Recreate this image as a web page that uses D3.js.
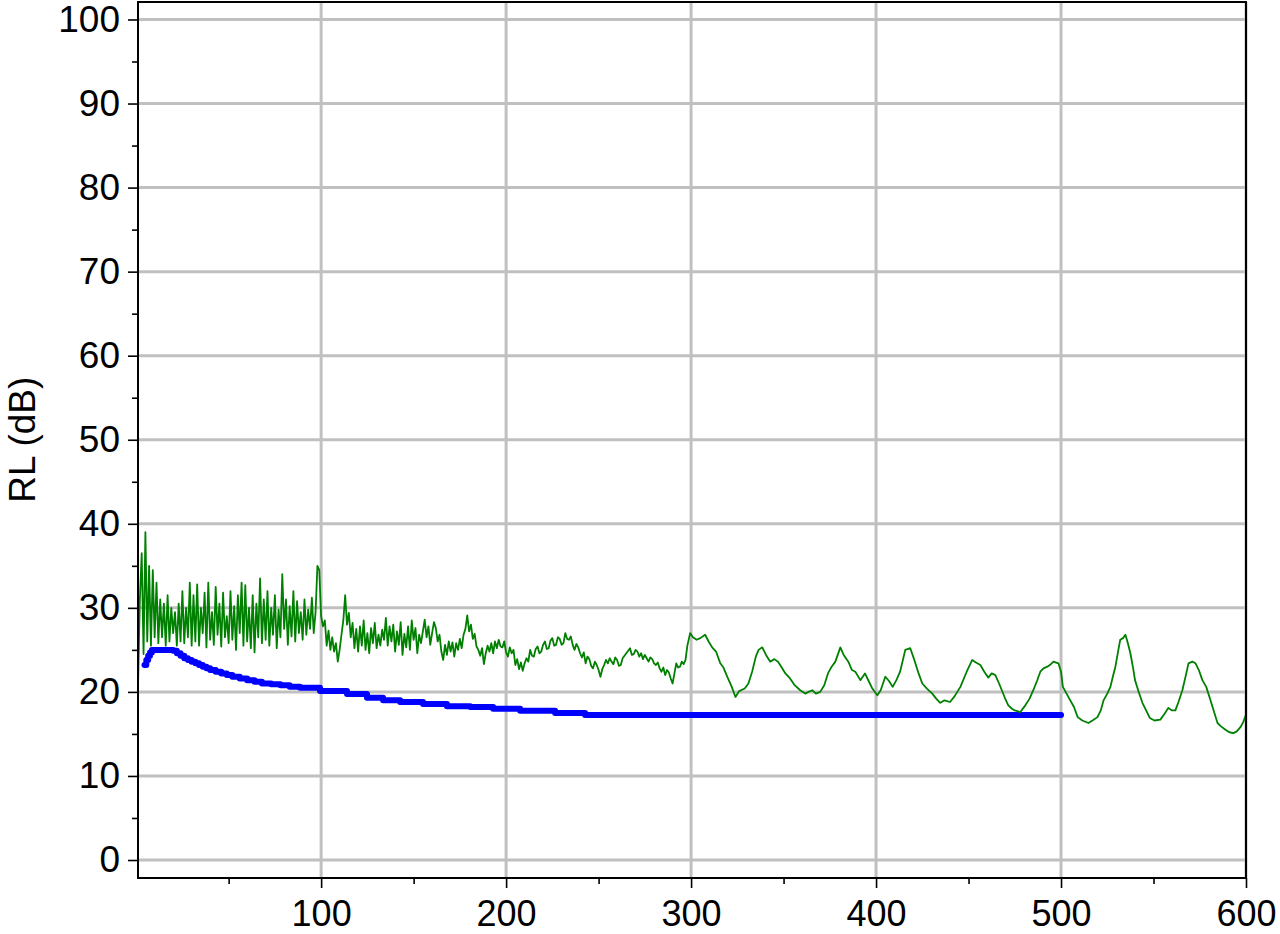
<!DOCTYPE html>
<html>
<head>
<meta charset="utf-8">
<script src="https://cdn.jsdelivr.net/npm/d3@7"></script>
<style>
  html, body { margin: 0; padding: 0; background: #fff; }
  svg { display: block; }
  text { font-family: "Liberation Sans", Arial, sans-serif; fill: #000; }
</style>
</head>
<body>
<svg id="chart" width="1280" height="934"></svg>
<script>
// ---------------- DATA ----------------
const yLabel = "RL (dB)";
const xTickValues = [100, 200, 300, 400, 500, 600];
const xMinorTicks = [50, 150, 250, 350, 450, 550];
const yTickValues = [0, 10, 20, 30, 40, 50, 60, 70, 80, 90, 100];
const yMinorTicks = [5, 15, 25, 35, 45, 55, 65, 75, 85, 95];

// Blue (limit) line, stepped
const blueX = [4.5, 5.5, 6.5, 7.5, 8.5, 20, 22, 24, 26, 28, 30, 32, 34, 36, 38, 40, 43, 46, 49, 52, 56, 60, 64, 68, 73, 78, 83, 88.6, 99.4, 114, 124.8, 133.5, 142.7, 155.1, 168, 180.6, 193, 207.6, 226.5, 242.7, 500];
const blueY = [23.2, 23.8, 24.3, 24.7, 25.0, 24.9, 24.6, 24.3, 24.0, 23.8, 23.6, 23.4, 23.2, 23.0, 22.8, 22.6, 22.4, 22.2, 22.0, 21.8, 21.6, 21.4, 21.2, 21.0, 20.9, 20.8, 20.6, 20.5, 20.1, 19.75, 19.3, 19.0, 18.8, 18.55, 18.3, 18.2, 18.0, 17.75, 17.5, 17.25, 17.25];

// Green (measured) line, dense part: x = 1..298, step 1
const greenDenseStartX = 1;
const greenDenseY = [
  20.5, 31, 36.5, 24.5, 39, 26, 35, 25.5, 34.5, 26.5,
  33, 25.8, 31, 26.5, 30.5, 25.5, 31.5, 26, 30, 27,
  29.5, 25.5, 30.5, 26, 32, 25.8, 30, 26.5, 33, 25.5,
  31.5, 26, 32.8, 25.5, 30, 27, 31.8, 25.3, 33, 26.2,
  29.5, 25.6, 32.5, 26.8, 30.5, 25.4, 31.8, 26.5, 29, 25.8,
  32, 26.2, 30.2, 25, 31.5, 27, 33, 25.5, 32.7, 26,
  30, 25.2, 31.5, 24.7, 30.5, 26.5, 33.5, 25.8, 31, 26.2,
  32, 25.5, 30, 26.8, 31.5, 25.2, 29.8, 26.5, 34, 27.5,
  31, 25.6, 30.2, 26.6, 32, 26, 30.8, 27, 29.5, 26.2,
  31, 26.8, 29.8, 27.5, 31.2, 27, 29.5, 35, 34.5, 29,
  27.8, 28.5, 25.5, 27.3, 25, 26.5, 24.8, 25.8, 23.6, 25,
  26.8, 28.5, 31.5, 28, 29.4, 26.5, 28.2, 25.2, 27.5, 24.8,
  27.8, 25.5, 28.5, 25, 27, 24.6, 27.6, 25.8, 28.2, 25.2,
  26.8, 25.5, 27.4, 26.2, 28.8, 25.5, 27.8, 26, 28, 24.8,
  27.2, 25.6, 28.3, 24.4, 26.9, 25.3, 27.8, 25, 28.5, 26.2,
  27.6, 24.6, 26.8, 25.8, 27.2, 28.6, 26.5, 27.8, 25.6, 27,
  28.3, 27.6, 26, 26.8, 24.8, 23.8, 25.6, 24.4, 26, 24.8,
  25.9, 24.2, 25.8, 25, 26.3, 25.2, 26.8, 27.5, 29.1, 27.2,
  28, 26.3, 26.9, 25.4, 25, 24.3, 25.2, 23.3, 24.6, 25.5,
  24.8, 25.8, 24.6, 26, 25.2, 26.2, 25.4, 25.3, 26, 24.7,
  24.2, 25.3, 24.6, 25, 23.2, 23.9, 22.7, 23.5, 22.5, 23.4,
  24, 23.6, 25, 24.3, 24.2, 25.1, 25.4, 24.6, 24.8, 25.6,
  26, 25.1, 25.2, 26.1, 26.4, 25.5, 25.6, 26.5, 26.3, 25.6,
  25.8, 27, 26.3, 26.2, 26.6, 25.6, 25, 25.7, 25.3, 24.6,
  24.1, 24.7, 23.4, 24.2, 23.9, 23.1, 22.8, 23.6, 23.2, 22.6,
  21.8, 22.7, 23.2, 23.8, 23.4, 24, 23.6, 23.3, 24.1, 23.8,
  23.1, 23.2, 24, 24.3, 24.6, 24.9, 25.2, 24.4, 24.5, 25,
  24.8, 24.2, 24.6, 23.9, 24.4, 24, 23.6, 24.1, 23.9, 23.4,
  23.2, 23.5, 22.8, 22.4, 22.9, 22, 22.6, 22.3, 21.6, 21,
  22.2, 23.4, 22.9, 23, 23.6, 23.3, 23.8, 25.5
];

// Green line, sparse part (x > 298)
const greenSparseX = [299.5, 301, 303, 305, 307.6, 309.5, 311.4, 313.5, 315.8, 317.5, 319.6, 322, 324, 326, 329, 331, 333, 335, 336.5, 338.5, 340.5, 342.8, 345, 347, 349, 351, 353.5, 356, 359, 361.7, 363.5, 365.5, 367.5, 369.8, 372, 374, 376, 378, 380.7, 382.5, 385, 387, 388.8, 391.5, 394, 396, 398, 400.7, 402.5, 405, 407, 409, 411, 413, 415.8, 418.5, 421, 423, 425, 427.5, 430.4, 432.5, 434.7, 437, 440, 442.5, 445.6, 449, 452, 454, 456.4, 458.5, 460.7, 462.5, 464.5, 466.5, 468, 470, 471.5, 473.5, 475, 478, 480.7, 483, 485, 487, 488.8, 490.5, 492.6, 494.5, 495.9, 498.6, 500, 501, 503, 505, 507, 509, 511.5, 514.8, 517, 519.7, 521.5, 523, 525, 526.7, 528, 529.4, 531, 532, 533.5, 534.8, 536, 537.5, 539, 540, 542, 544, 546, 548, 550.5, 553.7, 556, 558, 560, 561.8, 563.5, 565.6, 567.5, 568.9, 571, 572.7, 574.5, 576.4, 578.5, 580.8, 582.5, 584.6, 586.5, 588.9, 591, 593.2, 595, 597, 598.5, 600];
const greenSparseY = [27, 26.5, 26.2, 26.4, 26.8, 26, 25.3, 24.8, 23.4, 22.9, 21.8, 20.6, 19.4, 20.1, 20.4, 21, 22.4, 24.2, 25, 25.3, 24.4, 23.6, 23.9, 23.6, 22.9, 22.2, 21.6, 20.8, 20.2, 19.8, 20, 20.2, 19.8, 20, 20.8, 22.2, 23, 23.6, 25.3, 24.4, 23.6, 22.6, 22.4, 21.4, 22.2, 21.3, 20.4, 19.6, 20.2, 21.8, 21.3, 20.6, 21.4, 22.4, 25, 25.2, 23.6, 22.2, 21, 20.4, 19.8, 19.2, 18.7, 19, 18.8, 19.5, 20.6, 22.4, 23.8, 23.5, 23.2, 22.4, 21.7, 22.2, 22, 21, 20.2, 19.1, 18.4, 18, 17.8, 17.6, 18.4, 19.2, 20.2, 21.3, 22.4, 22.8, 23, 23.3, 23.6, 23.4, 22.4, 20.6, 19.8, 19, 18.2, 17, 16.6, 16.3, 16.6, 17, 17.8, 19, 19.8, 20.6, 21.8, 23, 25, 26.2, 26.4, 26.8, 25.9, 24.6, 22.8, 21.4, 20, 18.7, 17.8, 16.9, 16.6, 16.7, 17.4, 18.1, 17.8, 17.8, 18.8, 20.2, 22, 23.4, 23.6, 23.4, 22.6, 21.4, 20.6, 19, 17.8, 16.3, 15.9, 15.5, 15.2, 15.1, 15.3, 15.8, 16.4, 17.3];

// ---------------- CHART ----------------
const W = 1280, H = 934;
const plot = { left: 138, right: 1246, top: 2, bottom: 878 };

const x = d3.scaleLinear().domain([1, 600]).range([plot.left, plot.right]);
const y = d3.scaleLinear().domain([-2.14, 102.08]).range([plot.bottom, plot.top]);

const svg = d3.select("#chart");

// Gridlines
const grid = svg.append("g").attr("stroke", "#c0c0c0").attr("stroke-width", 3);
grid.selectAll("line.h").data(yTickValues).join("line")
  .attr("x1", plot.left).attr("x2", plot.right)
  .attr("y1", d => y(d)).attr("y2", d => y(d));
grid.selectAll("line.v").data(xTickValues).join("line")
  .attr("y1", plot.top).attr("y2", plot.bottom)
  .attr("x1", d => x(d)).attr("x2", d => x(d));

// Data series
const blueData = blueX.map((v, i) => [v, blueY[i]]);
const greenData = greenDenseY.map((v, i) => [greenDenseStartX + i, v])
  .concat(greenSparseX.map((v, i) => [v, greenSparseY[i]]));

svg.append("clipPath").attr("id", "clip").append("rect")
  .attr("x", plot.left).attr("y", plot.top)
  .attr("width", plot.right - plot.left).attr("height", plot.bottom - plot.top);

const series = svg.append("g").attr("clip-path", "url(#clip)");

series.append("path")
  .datum(blueData)
  .attr("fill", "none")
  .attr("stroke", "#0000ff")
  .attr("stroke-width", 6)
  .attr("stroke-linejoin", "round")
  .attr("stroke-linecap", "round")
  .attr("d", d3.line().x(d => x(d[0])).y(d => y(d[1])).curve(d3.curveStepAfter));

series.append("path")
  .datum(greenData)
  .attr("fill", "none")
  .attr("stroke", "#008000")
  .attr("stroke-width", 1.8)
  .attr("stroke-linejoin", "round")
  .attr("d", d3.line().x(d => x(d[0])).y(d => y(d[1])));

// Frame
svg.append("rect")
  .attr("x", plot.left).attr("y", plot.top)
  .attr("width", plot.right - plot.left).attr("height", plot.bottom - plot.top)
  .attr("fill", "none").attr("stroke", "#000").attr("stroke-width", 2);

// Y axis
const yAxis = d3.axisLeft(y).tickValues(yTickValues).tickSize(10).tickPadding(8);
const gy = svg.append("g").attr("transform", `translate(${plot.left},0)`).call(yAxis);
gy.select(".domain").remove();
gy.selectAll(".tick line").attr("stroke", "#000").attr("stroke-width", 1.6);
gy.selectAll(".tick text").attr("font-size", 37).attr("font-family", "Liberation Sans, Arial, sans-serif");
const yMinor = d3.axisLeft(y).tickValues(yMinorTicks).tickSize(6).tickFormat("");
const gym = svg.append("g").attr("transform", `translate(${plot.left},0)`).call(yMinor);
gym.select(".domain").remove();
gym.selectAll(".tick line").attr("stroke", "#000").attr("stroke-width", 1.6);

// X axis
const xAxis = d3.axisBottom(x).tickValues(xTickValues).tickSize(10).tickPadding(12);
const gx = svg.append("g").attr("transform", `translate(0,${plot.bottom})`).call(xAxis);
gx.select(".domain").remove();
gx.selectAll(".tick line").attr("stroke", "#000").attr("stroke-width", 1.6);
gx.selectAll(".tick text").attr("font-size", 36).attr("font-family", "Liberation Sans, Arial, sans-serif");
const xMinor = d3.axisBottom(x).tickValues(xMinorTicks).tickSize(6).tickFormat("");
const gxm = svg.append("g").attr("transform", `translate(0,${plot.bottom})`).call(xMinor);
gxm.select(".domain").remove();
gxm.selectAll(".tick line").attr("stroke", "#000").attr("stroke-width", 1.6);

// Y label
svg.append("text")
  .attr("transform", `translate(35,${(y(0) + y(100)) / 2}) rotate(-90)`)
  .attr("text-anchor", "middle")
  .attr("font-size", 37)
  .text(yLabel);
</script>
</body>
</html>
